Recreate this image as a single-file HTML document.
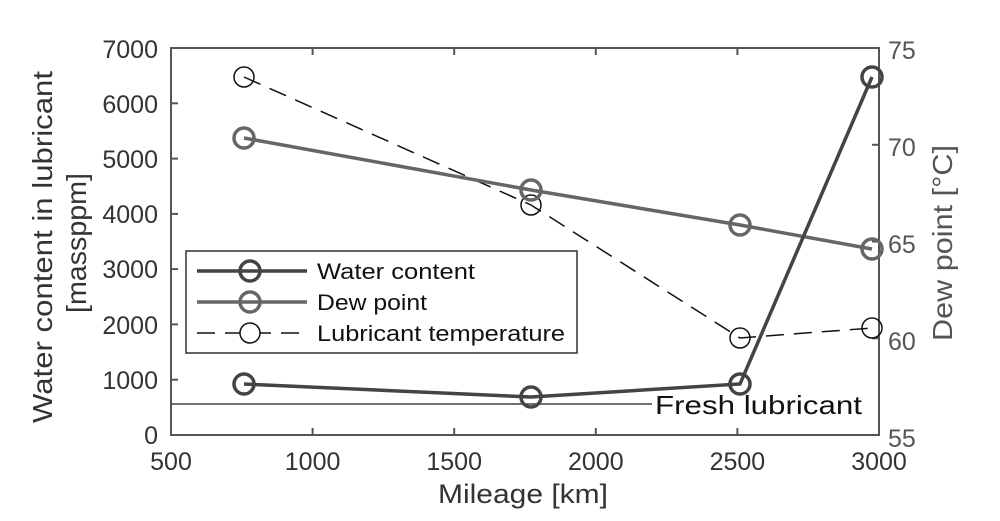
<!DOCTYPE html>
<html><head><style>body{margin:0;background:#fff}svg{display:block}text{font-family:"Liberation Sans","Noto Sans CJK JP",sans-serif}</style></head>
<body>
<svg width="1000" height="521" viewBox="0 0 1000 521">
<rect x="171" y="48" width="708" height="387" fill="#fff" stroke="#555" stroke-width="2"/>
<g stroke="#555" stroke-width="2">
<line x1="171" y1="379.7" x2="178" y2="379.7"/><line x1="171" y1="324.4" x2="178" y2="324.4"/><line x1="171" y1="269.1" x2="178" y2="269.1"/><line x1="171" y1="213.9" x2="178" y2="213.9"/><line x1="171" y1="158.6" x2="178" y2="158.6"/><line x1="171" y1="103.3" x2="178" y2="103.3"/>
<line x1="879" y1="338.3" x2="872" y2="338.3"/><line x1="879" y1="241.5" x2="872" y2="241.5"/><line x1="879" y1="144.8" x2="872" y2="144.8"/>
<line x1="312.6" y1="435" x2="312.6" y2="428"/><line x1="454.2" y1="435" x2="454.2" y2="428"/><line x1="595.8" y1="435" x2="595.8" y2="428"/><line x1="737.4" y1="435" x2="737.4" y2="428"/>
<line x1="312.6" y1="48" x2="312.6" y2="55"/><line x1="454.2" y1="48" x2="454.2" y2="55"/><line x1="595.8" y1="48" x2="595.8" y2="55"/><line x1="737.4" y1="48" x2="737.4" y2="55"/>
</g>
<g font-size="25" fill="#333" text-anchor="end">
<text x="158" y="444">0</text><text x="158" y="389">1000</text><text x="158" y="334">2000</text><text x="158" y="278">3000</text><text x="158" y="223">4000</text><text x="158" y="168">5000</text><text x="158" y="113">6000</text><text x="158" y="58">7000</text>
</g>
<g font-size="25" fill="#555">
<text x="888" y="447">55</text><text x="888" y="350">60</text><text x="888" y="253">65</text><text x="888" y="156">70</text><text x="888" y="59">75</text>
</g>
<g font-size="25" fill="#333" text-anchor="middle">
<text x="171" y="470">500</text><text x="312.6" y="470">1000</text><text x="454.2" y="470">1500</text><text x="595.8" y="470">2000</text><text x="737.4" y="470">2500</text><text x="879" y="470">3000</text>
<text x="523" y="503" font-size="27" textLength="170" lengthAdjust="spacingAndGlyphs">Mileage [km]</text>
<text transform="translate(52,247) rotate(-90)" font-size="28" textLength="352" lengthAdjust="spacingAndGlyphs">Water content in lubricant</text>
<text transform="translate(86,243) rotate(-90)" font-size="28" textLength="140" lengthAdjust="spacingAndGlyphs">[massppm]</text>
<text transform="translate(952,243) rotate(-90)" font-size="28" fill="#555" textLength="196" lengthAdjust="spacingAndGlyphs">Dew point [°C]</text>
</g>
<line x1="171" y1="404" x2="652" y2="404" stroke="#444" stroke-width="1.5"/>
<text x="655" y="414" font-size="26" fill="#111" textLength="207" lengthAdjust="spacingAndGlyphs">Fresh lubricant</text>
<polyline points="244,77 531,205 740,338 872,328" fill="none" stroke="#111" stroke-width="1.5" stroke-dasharray="18,10"/>
<polyline points="244,138 531,190 740,225 872,249" fill="none" stroke="#666" stroke-width="3.5"/>
<polyline points="244,384 531,397 740,384 872,77" fill="none" stroke="#444" stroke-width="3.5"/>
<g fill="none">
<g stroke="#111" stroke-width="1.5"><circle cx="244" cy="77" r="10"/><circle cx="531" cy="205" r="10"/><circle cx="740" cy="338" r="10"/><circle cx="872" cy="328" r="10"/></g>
<g stroke="#666" stroke-width="3.5"><circle cx="244" cy="138" r="10"/><circle cx="531" cy="190" r="10"/><circle cx="740" cy="225" r="10"/><circle cx="872" cy="249" r="10"/></g>
<g stroke="#444" stroke-width="3.5"><circle cx="244" cy="384" r="10"/><circle cx="531" cy="397" r="10"/><circle cx="740" cy="384" r="10"/><circle cx="872" cy="77" r="10"/></g>
</g>
<rect x="186" y="251" width="391" height="102" fill="#fff" stroke="#333" stroke-width="1.5"/>
<line x1="197" y1="271" x2="307" y2="271" stroke="#444" stroke-width="3.5"/><circle cx="250" cy="271" r="10" fill="none" stroke="#444" stroke-width="3.5"/>
<line x1="197" y1="302" x2="307" y2="302" stroke="#666" stroke-width="3.5"/><circle cx="250" cy="302" r="10" fill="none" stroke="#666" stroke-width="3.5"/>
<line x1="197" y1="333" x2="307" y2="333" stroke="#111" stroke-width="1.5" stroke-dasharray="18,10"/><circle cx="250" cy="333" r="10" fill="#fff" stroke="#111" stroke-width="1.5"/>
<g font-size="22" fill="#111"><text x="317" y="279" textLength="158" lengthAdjust="spacingAndGlyphs">Water content</text><text x="317" y="310" textLength="110" lengthAdjust="spacingAndGlyphs">Dew point</text><text x="317" y="341" textLength="248" lengthAdjust="spacingAndGlyphs">Lubricant temperature</text></g>
</svg>
</body></html>
